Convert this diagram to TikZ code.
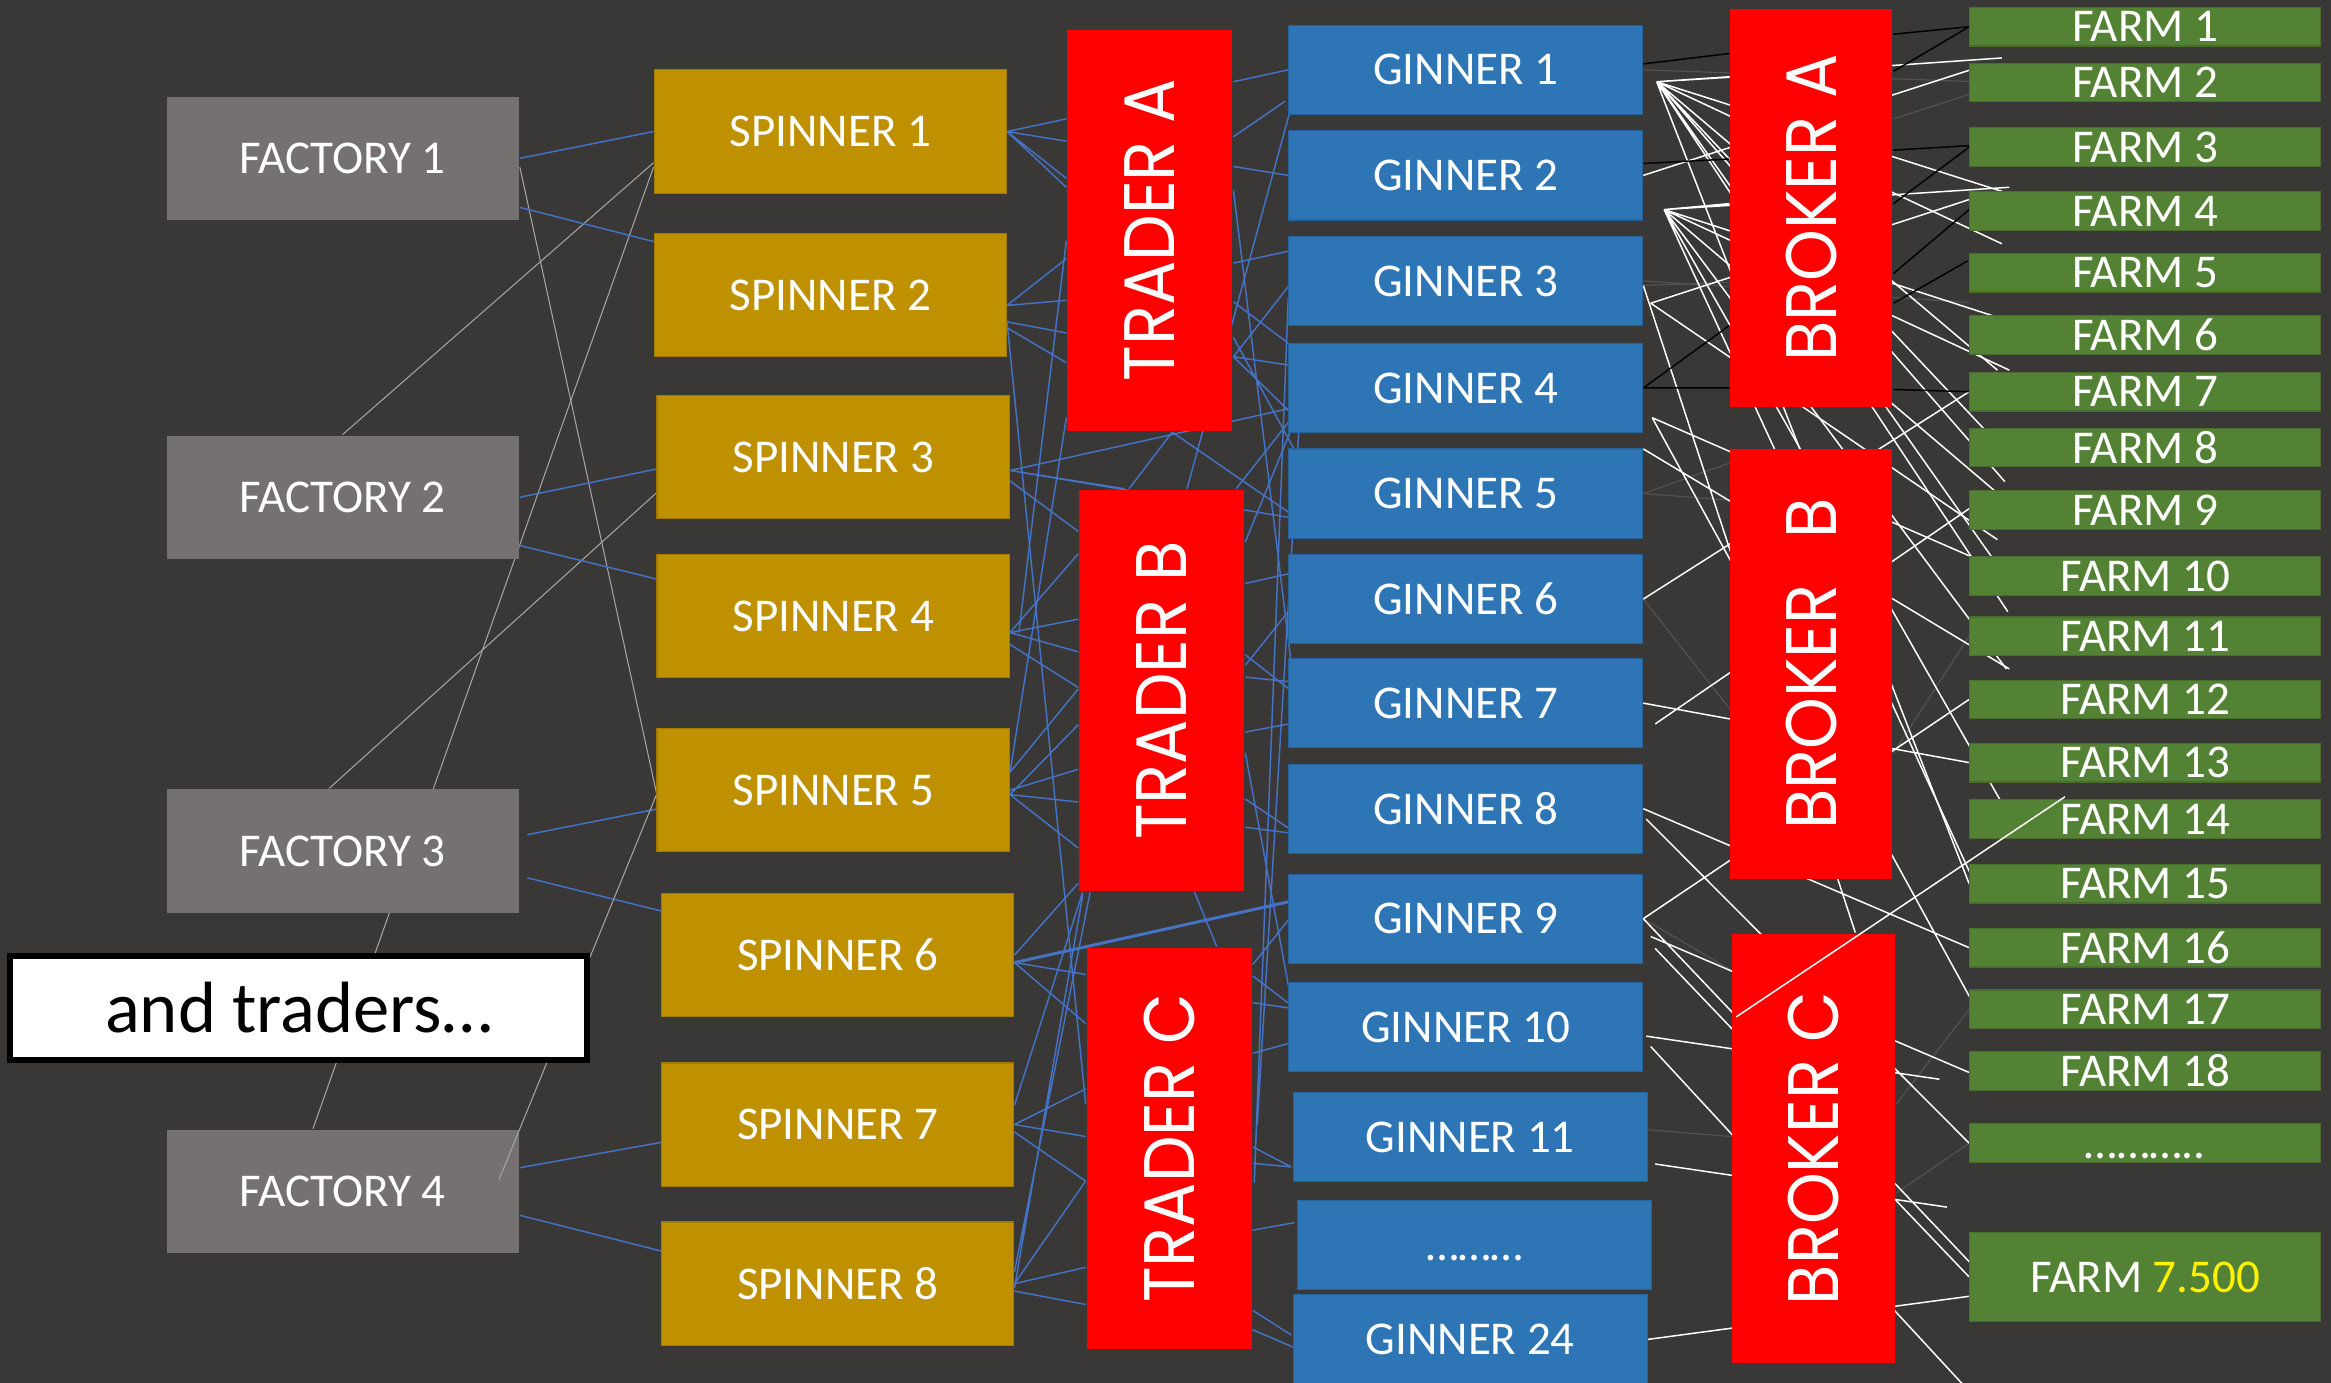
\documentclass[tikz,border=0pt]{standalone}
\usepackage{fontspec}
\usepackage{graphicx}
\setmainfont{Carlito}
\newfontfamily\brokerfont{Poppins}
\definecolor{bgdark}{RGB}{58,56,54}
\definecolor{factorygray}{RGB}{118,113,113}
\definecolor{spinnergold}{RGB}{191,144,0}
\definecolor{ginnerblue}{RGB}{46,117,182}
\definecolor{farmgreen}{RGB}{84,130,53}
\definecolor{linkblue}{RGB}{68,114,196}
\definecolor{linkgray}{RGB}{165,165,165}
\definecolor{linkfaint}{RGB}{84,82,80}
\pgfdeclarelayer{back}
\pgfdeclarelayer{wires}
\pgfsetlayers{back,wires,main}
\begin{document}
\begin{tikzpicture}[x=0.1mm,y=-0.1mm,
lbl/.style={inner sep=0pt,text=white,font=\fontsize{9pt}{10pt}\selectfont},
factory/.style={lbl,fill=factorygray,minimum width=23.7mm,minimum height=8.3mm},
spinner/.style={lbl,fill=spinnergold,draw=spinnergold!85!black,line width=0.08mm,minimum width=23.7mm,minimum height=8.3mm},
trader/.style={fill=red,inner sep=0pt,text=white,minimum width=11.1mm,minimum height=27mm,font=\brokerfont\fontsize{13.7pt}{14pt}\selectfont},
broker/.style={trader,minimum width=10.9mm,minimum height=28.9mm},
ginner/.style={lbl,fill=ginnerblue,draw=ginnerblue!85!black,line width=0.08mm,minimum width=23.8mm,minimum height=6mm},
farm/.style={lbl,fill=farmgreen,draw=farmgreen!85!black,line width=0.08mm,minimum width=23.6mm,minimum height=2.6mm},
note/.style={draw=black,line width=0.4mm,fill=white,inner sep=0pt,minimum width=38.8mm,minimum height=7mm,font=\fontsize{13.9pt}{15pt}\selectfont},
yoff/.style={shift={(0,#1)}},
off/.style={shift={(#1)}},
blink/.style={draw=linkblue,line width=0.1mm},
glink/.style={draw=linkgray,line width=0.07mm},
wlink/.style={draw=white,line width=0.1mm},
klink/.style={draw=black,line width=0.1mm},
flink/.style={draw=linkfaint,line width=0.08mm}]
\useasboundingbox (0,0) rectangle (1568,930);
\begin{pgfonlayer}{back}
\fill[bgdark] (0,0) rectangle (1568,930);
\end{pgfonlayer}
% factories
\node[factory] (f1) at (230.5,106.5) {FACTORY 1};
\node[factory] (f2) at (230.5,334.5) {FACTORY 2};
\node[factory] (f3) at (230.5,572.5) {FACTORY 3};
\node[factory] (f4) at (230.5,801.5) {FACTORY 4};
% spinners
\node[spinner] (s1) at (558.5,88.5) {SPINNER 1};
\node[spinner] (s2) at (558.5,198.5) {SPINNER 2};
\node[spinner] (s3) at (560.5,307.5) {SPINNER 3};
\node[spinner] (s4) at (560.5,414.5) {SPINNER 4};
\node[spinner] (s5) at (560.5,531.5) {SPINNER 5};
\node[spinner] (s6) at (563.5,642.5) {SPINNER 6};
\node[spinner] (s7) at (563.5,756.5) {SPINNER 7};
\node[spinner] (s8) at (563.5,863.5) {SPINNER 8};
% traders
\node[trader] (ta) at (773.5,155) {\rotatebox{90}{\scalebox{0.92}[1]{TRADER A}}};
\node[trader] (tb) at (781.5,464.5) {\rotatebox{90}{\scalebox{0.92}[1]{TRADER B}}};
\node[trader] (tc) at (786.5,772.5) {\rotatebox{90}{\scalebox{0.92}[1]{TRADER C}}};
% ginners
\node[ginner] (g1) at (986,47) {GINNER 1};
\node[ginner] (g2) at (986,118) {GINNER 2};
\node[ginner] (g3) at (986,189) {GINNER 3};
\node[ginner] (g4) at (986,261) {GINNER 4};
\node[ginner] (g5) at (986,332) {GINNER 5};
\node[ginner] (g6) at (986,403) {GINNER 6};
\node[ginner] (g7) at (986,473) {GINNER 7};
\node[ginner] (g8) at (986,544) {GINNER 8};
\node[ginner] (g9) at (986,618) {GINNER 9};
\node[ginner] (g10) at (986,691) {GINNER 10};
\node[ginner] (g11) at (989,765) {GINNER 11};
\node[ginner] (gd) at (992,837.5) {\vphantom{G}………};
\node[ginner] (g24) at (989,901) {GINNER 24};
% brokers
\node[broker,minimum height=26.8mm] (ba) at (1218.5,140) {\rotatebox{90}{\scalebox{0.92}[1]{BROKER A}}};
\node[broker] (bb) at (1218.5,446.5) {\rotatebox{90}{\scalebox{0.92}[1]{BROKER\hspace{0.7em}B}}};
\node[broker,minimum width=11mm] (bc) at (1220,772.5) {\rotatebox{90}{\scalebox{0.92}[1]{BROKER C}}};
% farms
\node[farm] (fa1) at (1443,18) {FARM 1};
\node[farm] (fa2) at (1443,55.5) {FARM 2};
\node[farm] (fa3) at (1443,99) {FARM 3};
\node[farm] (fa4) at (1443,142) {FARM 4};
\node[farm] (fa5) at (1443,183.5) {FARM 5};
\node[farm] (fa6) at (1443,225.5) {FARM 6};
\node[farm] (fa7) at (1443,263.5) {FARM 7};
\node[farm] (fa8) at (1443,301) {FARM 8};
\node[farm] (fa9) at (1443,343) {FARM 9};
\node[farm] (fa10) at (1443,387.5) {FARM 10};
\node[farm] (fa11) at (1443,428) {FARM 11};
\node[farm] (fa12) at (1443,470.5) {FARM 12};
\node[farm] (fa13) at (1443,513) {FARM 13};
\node[farm] (fa14) at (1443,551) {FARM 14};
\node[farm] (fa15) at (1443,594.5) {FARM 15};
\node[farm] (fa16) at (1443,637.5) {FARM 16};
\node[farm] (fa17) at (1443,679) {FARM 17};
\node[farm] (fa18) at (1443,720.5) {FARM 18};
\node[farm] (fad) at (1443,769) {\vphantom{F}………..};
\node[farm,minimum height=6mm] (fz) at (1443,859) {FARM \textcolor{yellow}{7.500}};
\coordinate (h1) at ([off={9,8}]g1.east);
\coordinate (h2) at ([off={14,23}]g2.east);
\coordinate (fout) at (1345,958);
\begin{pgfonlayer}{wires}
% factories to spinners
\draw[glink] ([yoff=6]f1.east) -- ([yoff=2]s5.west);
\draw[glink] (f2.north) -- ([yoff=21]s1.west);
\draw[glink] ([yoff=24]s1.west) -- ([off={-20,0}]f4.north);
\draw[glink] ([off={10,15}]s3.west) -- ([off={-9,0}]f3.north);
\draw[blink] (f1.east) -- (s1.west);
\draw[blink] ([yoff=33]f1.east) -- ([yoff=-36]s2.west);
\draw[blink] (f2.east) -- ([yoff=8]s3.west);
\draw[blink] ([off={-6,31}]f2.east) -- ([yoff=-25]s4.west);
\draw[blink] ([off={5,-11}]f3.east) -- ([off={4,12}]s5.west);
\draw[blink] ([off={5,18}]f3.east) -- ([off={7,-28}]s6.west);
\draw[blink] ([yoff=-16]f4.east) -- ([yoff=12]s7.west);
\draw[blink] ([yoff=16]f4.east) -- ([yoff=-22]s8.west);
% spinners to traders
\draw[blink] (s1.east) -- ([yoff=-75]ta.west) (s1.east) -- ([yoff=-60]ta.west)
  (s1.east) -- ([yoff=-35]ta.west) (s1.east) -- ([yoff=-29]ta.west);
\draw[blink] ([yoff=7]s2.east) -- ([yoff=19]ta.west) ([yoff=7]s2.east) -- ([yoff=47]ta.west)
  ([yoff=18]s2.east) -- ([yoff=69]ta.west) ([yoff=22]s2.east) -- ([yoff=89]ta.west)
  ([yoff=18]s2.east) -- ([yoff=-30]tc.west);
\draw[blink] ([yoff=9]s3.east) -- ([off={-25,0}]tb.north) ([yoff=9]s3.east) -- ([yoff=16]g5.west)
  ([yoff=9]s3.east) -- ([yoff=14]g4.west) ([yoff=16]s3.east) -- ([yoff=-107]tb.west);
\draw[blink] ([yoff=7]ta.west) -- ([off={6,11}]s4.east) ([yoff=126]ta.west) -- ([yoff=-12]s5.east);
\draw[blink] ([yoff=11]s4.east) -- ([yoff=-48]tb.west) ([yoff=11]s4.east) -- ([yoff=-26]tb.west)
  ([yoff=11]s4.east) -- ([yoff=-92]tb.west) ([yoff=19]s4.east) -- ([yoff=-2]tb.west);
\draw[blink] (s5.east) -- ([yoff=53]tb.west) ([yoff=3]s5.east) -- ([yoff=75]tb.west)
  ([yoff=3]s5.east) -- ([yoff=106]tb.west) ([yoff=3]s5.east) -- ([yoff=23]tb.west)
  ([yoff=-12]s5.east) -- ([yoff=-1]tb.west);
\draw[blink,line width=0.2mm] ([yoff=5]s6.east) -- ([off={12,-14}]g9.west);
\draw[blink] ([yoff=5]s6.east) -- ([yoff=-117]tc.west) ([yoff=5]s6.east) -- ([yoff=-84]tc.west)
  (s6.east) -- ([yoff=-6]tb.south west);
\draw[blink] (s7.east) -- ([yoff=-40]tc.west) (s7.east) -- ([yoff=-8]tc.west)
  ([yoff=5]s7.east) -- ([yoff=22]tc.west) ([yoff=-13]s7.east) -- ([off={3,0}]tb.south west);
\draw[blink] (s8.east) -- ([yoff=80]tc.west) (s8.east) -- ([yoff=22]tc.west)
  ([yoff=5]s8.east) -- ([yoff=105]tc.west) ([yoff=3]s8.east) -- ([off={3,2}]tb.south west)
  ([yoff=-8]s8.east) -- ([off={8,0}]tb.south west);
% traders to ginners
\draw[blink] ([yoff=-100]ta.east) -- (g1.west) ([yoff=-63]ta.east) -- ([off={-2,21}]g1.west)
  ([yoff=-43]ta.east) -- (g2.west) ([yoff=22]ta.east) -- ([yoff=-20]g3.west)
  ([yoff=48]ta.east) -- ([off={12,-21}]g4.west) ([yoff=85]ta.east) -- ([off={3,-15}]g4.west)
  ([yoff=85]ta.east) -- ([yoff=15]g4.west) ([yoff=72]ta.east) -- ([off={19,-2}]g5.west)
  ([yoff=-27]ta.east) -- ([off={5,-2}]g7.west) ([yoff=85]ta.east) -- ([off={10,-9}]g3.west)
  ([off={3,21}]g1.west) -- ([off={17,0}]tb.north) ([off={15,0}]ta.south) -- ([off={5,16}]g5.west)
  ([off={15,0}]ta.south) -- ([off={-22,0}]tb.north);
\draw[blink] ([yoff=-100]tb.east) -- ([off={8,13}]g4.west) ([yoff=-72]tb.east) -- ([yoff=-17]g6.west)
  ([yoff=-17]tb.east) -- ([off={10,-4}]g6.west) ([yoff=-9]tb.east) -- ([off={5,-14}]g7.west)
  ([yoff=-24]tb.east) -- ([off={10,-2}]g7.west) ([off={50,0}]tb.north) -- ([off={8,13}]g4.west)
  ([yoff=28]tb.east) -- ([yoff=14]g7.west) ([yoff=73]tb.east) -- ([off={6,17}]g8.west)
  ([yoff=92]tb.east) -- ([off={6,17}]g8.west) ([yoff=42]tb.east) -- ([off={1,-23}]g10.west)
  ([off={22,0}]tb.south) -- ([off={32,0}]tc.north);
\draw[blink] ([yoff=12]tc.north east) -- ([yoff=1]g9.west) ([yoff=-116]tc.east) -- ([off={16,-4}]g10.west)
  ([yoff=-98]tc.east) -- ([yoff=-13]g10.west) ([yoff=-64]tc.east) -- ([yoff=11]g10.west)
  ([yoff=-1]tc.east) -- ([off={-1,20}]g11.west) ([yoff=10]tc.east) -- ([off={-1,20}]g11.west)
  ([yoff=55]tc.east) -- ([off={-2,-15}]gd.west) ([yoff=109]tc.east) -- ([off={-1,-3}]g24.west)
  ([yoff=122]tc.east) -- ([off={16,12}]g24.west)
  ([off={8,13}]g4.west) -- ([off={3,-16}]tc.east) ([yoff=11]g3.west) -- ([off={1,23}]tc.east);
% faint ones
\draw[flink] (g1.east) -- ([off={20,0}]fa2.west) ([yoff=3]g3.east) -- ([yoff=50]ba.west)
  (g5.east) -- ([yoff=-110]bb.west) (g5.east) -- ([yoff=-135]bb.west)
  (g6.east) -- ([yoff=30]bb.west) (g9.east) -- ([yoff=-120]bc.west)
  ([yoff=-5]g11.east) -- ([yoff=-8]bc.west) (g3.east) -- ([yoff=20]fa5.west)
  ([yoff=-30]bc.east) -- (fa17.west) ([yoff=30]bc.east) -- (fad.west)
  ([yoff=60]bb.east) -- (fa11.west) ([yoff=-60]ba.east) -- ([yoff=8]fa2.west);
% ginners to brokers and farms
\draw[wlink] (h1) -- ([off={22,-16.5}]fa2.west) (h1) -- ([off={26,-12}]fa4.west)
  (h1) -- ([off={22,22}]fa4.west) (h1) -- ([off={19,-14.5}]fa7.west)
  (h1) -- ([off={17,-5}]fa8.west) (h1) -- ([off={24,-19}]fa9.west)
  (h1) -- ([off={21,-4.5}]fa10.west) (h1) -- ([off={26,24}]fa10.west)
  (h1) -- (fa15.west) (h1) -- ([yoff=-88]ba.west);
\draw[wlink] (h2) -- ([off={27,-16}]fa4.west) (h2) -- ([off={27,-9.5}]fa6.west)
  (h2) -- ([off={27,-14.5}]fa7.west) (h2) -- ([off={24,-7}]fa9.west)
  (h2) -- ([off={25,22}]fa11.west) (h2) -- ([off={23,-9}]fa14.west)
  (h2) -- ([off={6,4.5}]fa15.west) (h2) -- ([yoff=-3]ba.west);
\draw[wlink] (g2.east) -- ([off={4,-9.5}]fa2.west) ([off={5,15}]g3.east) -- ([off={10,-11}]fa4.west)
  ([off={5,15}]g3.east) -- ([off={19,20}]fa9.west) ([yoff=3]g3.east) -- ([off={28,0}]bc.north)
  ([off={6,20}]g4.east) -- ([off={6,2}]fa17.west) ([off={6,20}]g4.east) -- ([off={21,-4.5}]fa10.west)
  ([yoff=-30]g5.east) -- ([off={27,22}]fa11.west)
  (g6.east) -- (fa7.west) ([off={8,14}]g7.east) -- ([off={9,-7}]fa9.west)
  (g7.east) -- (fa13.west) (g8.east) -- (fa16.west) ([off={2,7}]g8.east) -- (fad.west)
  (g9.east) -- (fa12.west) (g9.east) -- ([off={6,-4}]fz.west)
  ([off={5,12}]g9.east) -- ([off={6,3.5}]fa18.west) ([off={8,20}]g9.east) -- (fz.west)
  ([off={2,6}]g10.east) -- ([off={-20,5.5}]fa18.west) ([off={5,13}]g10.east) -- (fout)
  ([off={5,18}]g11.east) -- ([off={-15,-47}]fz.west) (g24.east) -- ([yoff=13]fz.west);
\draw[klink] ([yoff=-4]g1.east) -- ([yoff=-104]ba.west) ([yoff=-8]g2.east) -- ([yoff=-33]ba.west)
  (g4.east) -- ([yoff=121]ba.west) (g4.east) -- ([yoff=79]ba.west)
  ([yoff=-117]ba.east) -- (fa1.west) ([yoff=-92]ba.east) -- (fa1.west)
  ([yoff=-39]ba.east) -- ([yoff=-1]fa3.west) ([yoff=-3]ba.east) -- (fa3.west)
  ([yoff=44]ba.east) -- ([yoff=-1]fa4.west) ([yoff=64]ba.east) -- ([off={-1,-8}]fa5.west)
  ([yoff=122]ba.east) -- (fa7.west);
\end{pgfonlayer}
\draw[glink] ([yoff=3]s5.west) -- ([off={-14,-8}]f4.east);
\node[note] (nt) at (201,678) {and traders…};
\draw[wlink] ([off={-52,-88.5}]bc.center) -- ([off={-54,-15}]fa14.center);
\end{tikzpicture}
\end{document}
